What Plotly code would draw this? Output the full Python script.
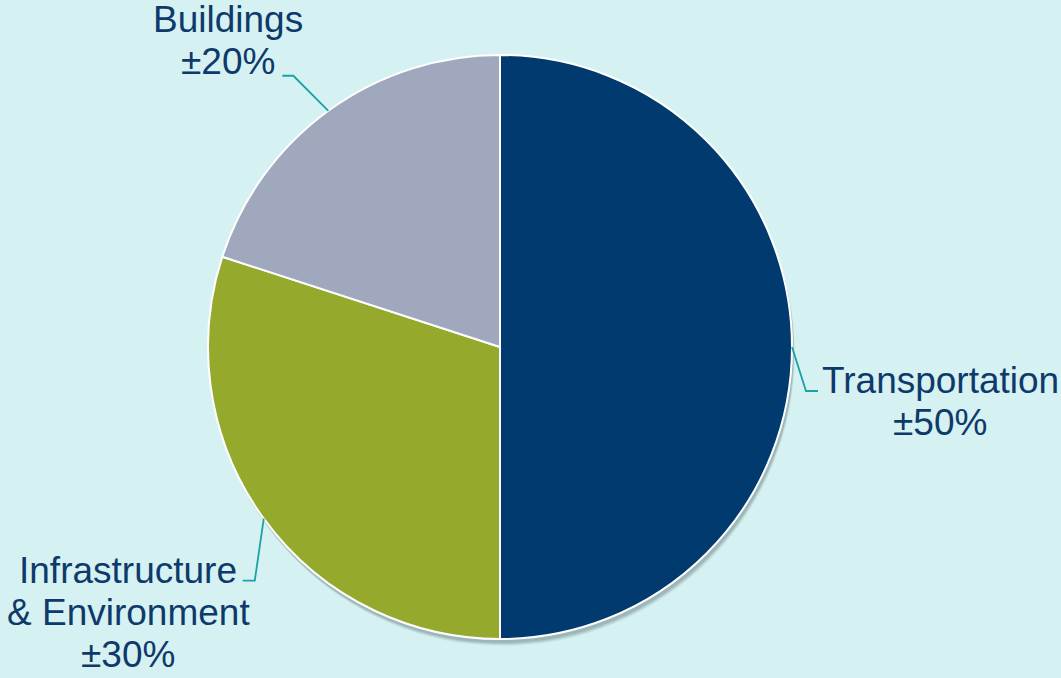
import math
import plotly.graph_objects as go

# Share of work by sector
sectors = ["Transportation", "Infrastructure & Environment", "Buildings"]
shares = [50, 30, 20]
share_labels = ["±50%", "±30%", "±20%"]
label_lines = [
    ["Transportation", "±50%"],
    ["Infrastructure", "& Environment", "±30%"],
    ["Buildings", "±20%"],
]
colors = ["#003a6e", "#95a92d", "#a0a8bd"]

W, H = 1061, 678
BG = "#d6f1f2"
TEXT = "#0e3a6b"
LEADER = "#1aa2a5"
FONT = "Liberation Sans, Arial, sans-serif"
FS = 37

# pie geometry in pixels
cx, cy, R = 500, 347, 292

def px(x):
    return x / W

def py(y):
    return 1 - y / H

fig = go.Figure()
fig.add_trace(go.Pie(
    labels=sectors,
    values=shares,
    sort=False,
    direction="clockwise",
    rotation=0,
    marker=dict(colors=colors, line=dict(color="white", width=2)),
    textinfo="none",
    hovertemplate="%{label}: %{value}%<extra></extra>",
    showlegend=False,
    domain=dict(x=[px(cx - R), px(cx + R)], y=[py(cy + R), py(cy - R)]),
))

shapes = []
# soft drop shadow under the pie
for off, op in [(7, 0.06), (6, 0.08), (5, 0.10), (4, 0.12)]:
    shapes.append(dict(
        type="circle", xref="paper", yref="paper", layer="below",
        x0=px(cx - R + off * 0.4), x1=px(cx + R + off * 0.4),
        y0=py(cy + R + off), y1=py(cy - R + off),
        fillcolor=f"rgba(40,60,70,{op})", line=dict(width=0),
    ))

# label placement: elbow offset from the arc point, tail direction, text block centre
placement = [
    dict(elbow=(14, 44), tail=12, center=940, first_base=392),
    dict(elbow=(-9, 62), tail=-12, center=128, first_base=582),
    dict(elbow=(-35, -35), tail=-11, center=228, first_base=32),
]
line_gap = 42

annotations = []
cum = 0
for i, v in enumerate(shares):
    mid = (cum + v / 2) / sum(shares) * 2 * math.pi
    cum += v
    ax = cx + R * math.sin(mid)
    ay = cy - R * math.cos(mid)
    p = placement[i]
    ex, ey = ax + p["elbow"][0], ay + p["elbow"][1]
    tx = ex + p["tail"]
    shapes.append(dict(
        type="path", xref="paper", yref="paper",
        path=f"M {px(ax)} {py(ay)} L {px(ex)} {py(ey)} L {px(tx)} {py(ey)}",
        line=dict(color=LEADER, width=1.8),
    ))
    for j, t in enumerate(label_lines[i]):
        base = p["first_base"] + j * line_gap
        annotations.append(dict(
            text=t, xref="paper", yref="paper",
            x=px(p["center"]), y=py(base - 12),
            xanchor="center", yanchor="middle", showarrow=False,
            font=dict(family=FONT, size=FS, color=TEXT),
        ))

fig.update_layout(
    width=W, height=H,
    margin=dict(l=0, r=0, t=0, b=0),
    paper_bgcolor=BG, plot_bgcolor=BG,
    shapes=shapes, annotations=annotations,
)
fig.write_html("out.html")
